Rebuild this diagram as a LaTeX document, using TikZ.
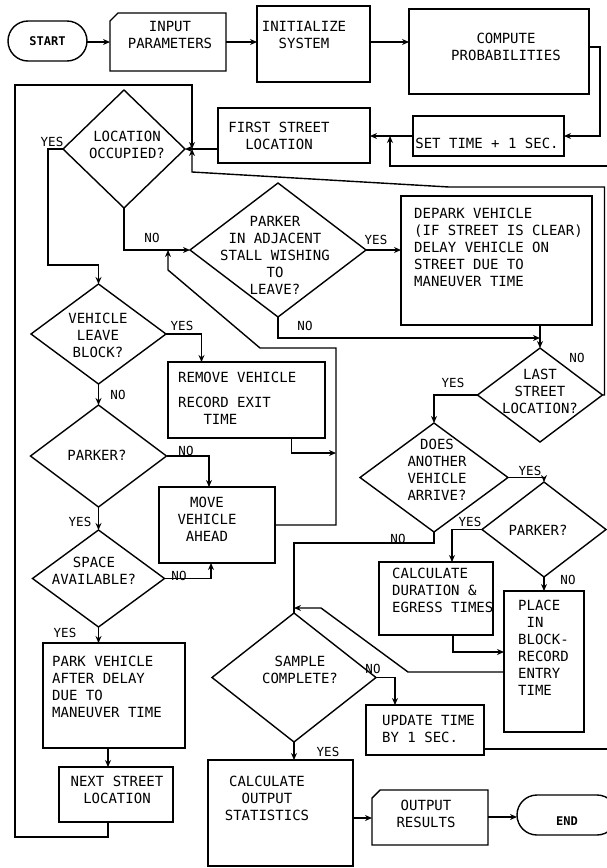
\documentclass[tikz,border=0pt]{standalone}
\usepackage{fontspec}
\setmainfont{DejaVu Sans Mono}
\usetikzlibrary{shapes.geometric,shapes.misc,arrows.meta,calc}
\newcommand{\bxfont}{\fontsize{14}{17}\selectfont}
\newcommand{\lbfont}{\fontsize{12.5}{14}\selectfont}
\tikzset{
  sz/.style 2 args={minimum width=#1pt, minimum height=#2pt},
  bx/.style={draw, rectangle, line width=1.4pt, inner sep=0pt, outer sep=0pt},
  dm/.style={draw, diamond, line width=1.4pt, inner sep=0pt, outer sep=0pt},
  ghost/.style={rectangle, inner sep=0pt, outer sep=0pt},
  tx/.style={font=\bxfont, inner sep=0pt, align=center},
  txl/.style={font=\bxfont, inner sep=0pt, align=left, anchor=west},
  lb/.style={font=\lbfont, inner sep=0pt},
  ln/.style={line width=1.4pt},
  ar/.style={line width=1.4pt, -{Stealth[length=7pt,width=6pt]}},
}
\begin{document}
\begin{tikzpicture}[x=1pt,y=-1pt]
\fill[white] (0,0) rectangle (607,868);
\useasboundingbox (0,0) rectangle (607,868);

% ---------- nodes ----------
\node[bx, rounded rectangle, sz={79}{40}, font=\bfseries\fontsize{12}{14}\selectfont] (start) at (47.5,41) {START};
\node[ghost, sz={116}{58}] (input) at (168,42) {};
\draw[ln] (input.south west) -- (input.south east) -- (input.north east) -- ([xshift=8pt]input.north west) -- ([yshift=-8pt]input.north west) -- cycle;
\node[tx] (tinput) at (170,35) {INPUT\\PARAMETERS};
\node[bx, sz={113}{76}] (init) at (313.5,44) {};
\node[tx] (tinit) at (304,34.5) {INITIALIZE\\SYSTEM};
\node[bx, sz={180}{85}] (compute) at (499,51.5) {};
\node[tx] (tcompute) at (506,46.5) {COMPUTE\\PROBABILITIES};
\node[bx, sz={151}{40}] (settime) at (488.5,136) {};
\node[tx] (tsettime) at (487,143) {SET TIME + 1 SEC.};
\node[bx, sz={152}{55}] (first) at (294,135.5) {};
\node[tx] (tfirst) at (279,135.5) {FIRST STREET\\LOCATION};
\node[dm, sz={122}{118}] (lococc) at (124,149) {};
\node[tx] (tlococc) at (127,145) {LOCATION\\OCCUPIED?};
\node[dm, sz={176}{134}] (padj) at (278,250) {};
\node[tx] (tpadj) at (275,255) {PARKER\\IN ADJACENT\\STALL WISHING\\TO\\LEAVE?};
\node[bx, sz={191}{129}] (depark) at (496.5,260.5) {};
\node[txl] (tdepark) at (414,247.5) {DEPARK VEHICLE\\(IF STREET IS CLEAR)\\DELAY VEHICLE ON\\STREET DUE TO\\MANEUVER TIME};
\node[dm, sz={135}{100}] (vleave) at (98.5,334) {};
\node[tx] (tvleave) at (98,335) {VEHICLE\\LEAVE\\BLOCK?};
\node[bx, sz={157}{76}] (remove) at (246.5,400) {};
\node[txl] (tremovea) at (178,377) {REMOVE VEHICLE};
\node[txl] (tremoveb) at (178,410.5) {RECORD EXIT\\\hspace*{25.3pt}TIME};
\node[dm, sz={125}{94}] (last) at (540,395) {};
\node[tx] (tlast) at (540,391.5) {LAST\\STREET\\LOCATION?};
\node[dm, sz={148}{109}] (does) at (434,477.5) {};
\node[tx] (tdoes) at (437,470) {DOES\\ANOTHER\\VEHICLE\\ARRIVE?};
\node[dm, sz={136}{102}] (parkerL) at (98.5,456) {};
\node[tx] (tparkerL) at (97,455) {PARKER?};
\node[bx, sz={116}{76}] (move) at (217,525) {};
\node[tx] (tmove) at (207,519.5) {MOVE\\VEHICLE\\AHEAD};
\node[dm, sz={124}{95}] (parkerR) at (544,529.5) {};
\node[tx] (tparkerR) at (538,530) {PARKER?};
\node[dm, sz={132}{97}] (space) at (98.5,578.5) {};
\node[tx] (tspace) at (94,571) {SPACE\\AVAILABLE?};
\node[bx, sz={114}{73}] (calcdur) at (436,598.5) {};
\node[txl] (tcalcdur) at (392,590) {CALCULATE\\DURATION \&\\EGRESS TIMES};
\node[bx, sz={80}{141}] (place) at (544,661.5) {};
\node[txl] (tplace) at (518,647.5) {PLACE\\\hspace*{8.4pt}IN\\BLOCK-\\RECORD\\ENTRY\\TIME};
\node[dm, sz={164}{129}] (sample) at (294,677.5) {};
\node[tx] (tsample) at (300,670) {SAMPLE\\COMPLETE?};
\node[bx, sz={118}{50}] (update) at (425,730) {};
\node[txl] (tupdate) at (382,729) {UPDATE TIME\\BY 1 SEC.};
\node[bx, sz={142}{105}] (park) at (114,695.5) {};
\node[txl] (tpark) at (52,687) {PARK VEHICLE\\AFTER DELAY\\DUE TO\\MANEUVER TIME};
\node[bx, sz={114}{55}] (next) at (116,794.5) {};
\node[tx] (tnext) at (117,789.5) {NEXT STREET\\LOCATION};
\node[bx, sz={145}{106}] (calcout) at (280.5,813) {};
\node[tx] (tcalcout) at (267,798) {CALCULATE\\OUTPUT\\STATISTICS};
\node[ghost, sz={116}{55}] (outres) at (430,817.5) {};
\draw[ln] (outres.south west) -- (outres.south east) -- (outres.north east) -- ([xshift=8pt]outres.north west) -- ([yshift=-8pt]outres.north west) -- cycle;
\node[tx] (toutres) at (426,814) {OUTPUT\\RESULTS};
\node[bx, rounded rectangle, sz={100}{40}] (endn) at (567,815) {};
\node[font=\bfseries\fontsize{12}{14}\selectfont, inner sep=0pt] (tend) at (567,821) {END};

% ---------- connectors ----------
\coordinate (jn) at (192,149);
\draw[ar] (start.east |- 0,42) -- (input.west |- 0,42);
\draw[ar] (input.east |- 0,42) -- (init.west |- 0,42);
\draw[ar] (init.east |- 0,42) -- (compute.west |- 0,42);
\draw[ar] (compute.east |- 0,47) -- (600,47) |- (settime.east);
\draw[ar] (settime.west) -- (settime.west -| first.east);
\draw[ar] (update.east |- 0,749) -| (615,166) -| (390,136);
\draw[ar] (first.west |- lococc.east) -- (lococc.east);
\draw[ar] (next.south -| 108,0) -- (108,837) -| (15,85) -| (jn);
\draw[ar] (last.east) -- ++(2,0) |- (449,187) -- (192,172) -- (jn);
\draw[ar] (lococc.west) -| (48,265) -| (vleave.north);
\draw[ar] (lococc.south) |- (padj.west);
\draw[ar] (move.east) -| (336,348) -- (260,348) -- (168,270) -- (padj.west -| 168,0);
\draw[ar] ([xshift=45pt]remove.south) |- (336,453);
\draw[ar] (padj.east) -- (padj.east -| depark.west);
\draw[ar] (padj.south) |- (last.north |- 0,338);
\draw[ar] (depark.south -| last.north) -- (last.north);
\draw[ar] (last.west) -| (does.north);
\draw[ar] (does.east) -| (parkerR.north);
\draw[ln] (does.south) |- (sample.north |- 0,543) -- (sample.north);
\draw[ar] (parkerR.west) -| ([xshift=16pt]calcdur.north);
\draw[ar] (parkerR.south) -- (parkerR.south |- place.north);
\draw[ar] ([xshift=17pt]calcdur.south) |- (place.west |- 0,652);
\draw[ar] (place.west |- 0,672) -- (408,672) -- (321,608) -- (sample.north |- 0,608);
\draw[ar] (sample.east) -| ([xshift=-30pt]update.north);
\draw[ar] (sample.south) -- (sample.south |- calcout.north);
\draw[ar] (calcout.east |- 0,818) -- (outres.west |- 0,818);
\draw[ar] (outres.east |- 0,817) -- (endn.west |- 0,817);
\draw[ar] (vleave.east) -| ([xshift=-45pt]remove.north);
\draw[ar] (vleave.south) -- (parkerL.north);
\draw[ar] (parkerL.east) -| ([xshift=-8pt]move.north);
\draw[ar] (parkerL.south) -- (space.north);
\draw[ar] (space.east) -| ([xshift=-6pt]move.south);
\draw[ar] (space.south) -- (space.south |- park.north);
\draw[ar] ([xshift=-6pt]park.south) -- ([xshift=-6pt]park.south |- next.north);

% ---------- labels ----------
\node[lb] (la) at (52,142) {YES};
\node[lb] (lb) at (152,238) {NO};
\node[lb] (lc) at (376,240) {YES};
\node[lb] (ld) at (305,326) {NO};
\node[lb] (le) at (182,326) {YES};
\node[lb] (lf) at (118,395) {NO};
\node[lb] (lg) at (186,451) {NO};
\node[lb] (lh) at (80,522) {YES};
\node[lb] (li) at (179,576) {NO};
\node[lb] (lj) at (65,633) {YES};
\node[lb] (lk) at (577,358) {NO};
\node[lb] (ll) at (453,383) {YES};
\node[lb] (lm) at (530,471) {YES};
\node[lb] (lnn) at (398,539) {NO};
\node[lb] (lo) at (470,522) {YES};
\node[lb] (lp) at (568,580) {NO};
\node[lb] (lq) at (373,669) {NO};
\node[lb] (lr) at (328,752) {YES};
\end{tikzpicture}
\end{document}
